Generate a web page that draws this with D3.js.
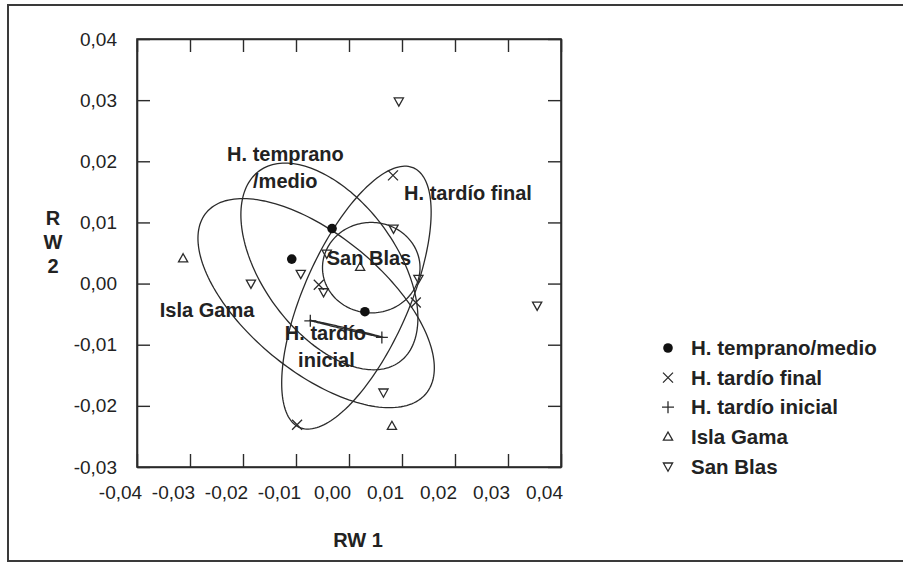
<!DOCTYPE html>
<html>
<head>
<meta charset="utf-8">
<script src="https://cdn.jsdelivr.net/npm/d3@7"></script>
<style>
  body { margin: 0; background: #fff; }
  text { font-family: "Liberation Sans", Arial, sans-serif; fill: #222; }
</style>
</head>
<body>
<div class="container"></div>
<script>
const width = 903;
const height = 565;
const margin = { top: 39, right: 342, bottom: 98, left: 137 };

// datos
const groups = ['H. temprano/medio', 'H. tardío final', 'H. tardío inicial', 'Isla Gama', 'San Blas'];
const groupSymbols = ['dot', 'cross', 'plus', 'up', 'down'];

const tempranoMedio = [[-0.0108, 0.0040], [-0.0032, 0.0090], [0.0030, -0.0046]];
const tardioFinal = [[0.0083, 0.0177], [0.0126, -0.0031], [-0.0098, -0.0231], [-0.0057, -0.0002]];
const tardioInicial = [[-0.0073, -0.0061], [0.0062, -0.0088]];
const islaGama = [[-0.0313, 0.0041], [0.0021, 0.0027], [0.0081, -0.0233]];
const sanBlas = [[0.0094, 0.0298], [0.0084, 0.0090], [-0.0042, 0.0049], [-0.0091, 0.0016],
  [-0.0185, 0.0000], [0.0131, 0.0008], [0.0355, -0.0036], [-0.0048, -0.0014], [0.0065, -0.0178]];
const groupPoints = [tempranoMedio, tardioFinal, tardioInicial, islaGama, sanBlas];

// elipses (centro, semiejes en x/y, correlacion)
const ellipseCx = [-0.0037, 0.0014, -0.0005, -0.0062, 0.0042];
const ellipseCy = [0.0028, -0.0023, -0.0074, -0.0032, 0.0026];
const ellipseSx = [0.0167, 0.0141, 0.0069, 0.0223, 0.0092];
const ellipseSy = [0.0169, 0.0215, 0.0014, 0.0171, 0.0074];
const ellipseR = [-0.50, 0.65, -0.996, -0.62, 0.0];

const xTickValues = [-0.04, -0.03, -0.02, -0.01, 0.00, 0.01, 0.02, 0.03, 0.04];
const yTickValues = [-0.03, -0.02, -0.01, 0.00, 0.01, 0.02, 0.03, 0.04];

// etiquetas dentro del grafico
const plotLabels = ['H. temprano', '/medio', 'H. tardío final', 'San Blas', 'Isla Gama', 'H. tardío', 'inicial'];
const plotLabelX = [-0.0230, -0.0181, 0.0104, -0.0042, -0.0357, -0.0121, -0.0096];
const plotLabelY = [0.0200, 0.0157, 0.0136, 0.0030, -0.0054, -0.0093, -0.0136];

const ink = '#2b2b2b';

const svg = d3.select('.container')
  .append('svg')
  .attr('width', width)
  .attr('height', height);

// marco exterior
svg.append('rect')
  .attr('x', 8)
  .attr('y', 5)
  .attr('width', 905)
  .attr('height', 556)
  .attr('fill', 'none')
  .attr('stroke', '#3a3a3a')
  .attr('stroke-width', 2);

const x = d3.scaleLinear().domain([-0.04, 0.04]).range([margin.left, width - margin.right]);
const y = d3.scaleLinear().domain([-0.03, 0.04]).range([height - margin.bottom, margin.top]);

const loc = d3.formatLocale({ decimal: ',', thousands: '.', grouping: [3], currency: ['', ''], minus: '-' });
const fmt = loc.format('.2f');

const g = svg.append('g');

// ejes
g.append('g')
  .attr('transform', `translate(0,${y.range()[0]})`)
  .call(d3.axisBottom(x).tickValues(xTickValues).tickFormat(fmt).tickSizeInner(-13).tickSizeOuter(0).tickPadding(19))
  .call(a => a.selectAll('text').attr('font-size', 19).attr('fill', '#222').attr('dx', -17));

g.append('g')
  .attr('transform', `translate(0,${y.range()[1]})`)
  .call(d3.axisTop(x).tickValues(xTickValues).tickFormat('').tickSizeInner(-13).tickSizeOuter(0));

g.append('g')
  .attr('transform', `translate(${x.range()[0]},0)`)
  .call(d3.axisLeft(y).tickValues(yTickValues).tickFormat(fmt).tickSizeInner(-13).tickSizeOuter(0).tickPadding(20))
  .call(a => a.selectAll('text').attr('font-size', 19).attr('fill', '#222'));

g.append('g')
  .attr('transform', `translate(${x.range()[1]},0)`)
  .call(d3.axisRight(y).tickValues(yTickValues).tickFormat('').tickSizeInner(-13).tickSizeOuter(0));

g.selectAll('.domain').attr('stroke', ink).attr('stroke-width', 1.6);
g.selectAll('.tick line').attr('stroke', ink).attr('stroke-width', 1.4);

// marco del grafico
g.append('rect')
  .attr('x', x.range()[0])
  .attr('y', y.range()[1])
  .attr('width', x.range()[1] - x.range()[0])
  .attr('height', y.range()[0] - y.range()[1])
  .attr('fill', 'none')
  .attr('stroke', ink)
  .attr('stroke-width', 1.6);

// titulos de ejes
svg.append('text')
  .attr('x', 358)
  .attr('y', 547)
  .attr('text-anchor', 'middle')
  .attr('font-size', 20)
  .attr('font-weight', 'bold')
  .text('RW 1');

['R', 'W', '2'].forEach((ch, i) => {
  svg.append('text')
    .attr('x', 53)
    .attr('y', 225 + i * 24)
    .attr('text-anchor', 'middle')
    .attr('font-size', 20)
    .attr('font-weight', 'bold')
    .text(ch);
});

// elipses
const ellipseLine = d3.line()
  .x(d => x(d[0]))
  .y(d => y(d[1]))
  .curve(d3.curveLinearClosed);

const angles = d3.range(0, 360, 2).map(a => a * Math.PI / 180);

groups.forEach((grp, i) => {
  const r = ellipseR[i];
  const pts = angles.map(t => [
    ellipseCx[i] + ellipseSx[i] * Math.cos(t),
    ellipseCy[i] + ellipseSy[i] * (r * Math.cos(t) + Math.sqrt(1 - r * r) * Math.sin(t))
  ]);
  g.append('path')
    .attr('d', ellipseLine(pts))
    .attr('fill', 'none')
    .attr('stroke', ink)
    .attr('stroke-width', 1.3);
});

// simbolos
function marker(sel, type) {
  if (type === 'dot') {
    sel.append('circle').attr('r', 4.8).attr('fill', '#111');
  } else if (type === 'cross') {
    sel.append('path').attr('d', 'M-5,-5L5,5M-5,5L5,-5')
      .attr('stroke', ink).attr('stroke-width', 1.3).attr('fill', 'none');
  } else if (type === 'plus') {
    sel.append('path').attr('d', 'M-6,0L6,0M0,-6L0,6')
      .attr('stroke', ink).attr('stroke-width', 1.3).attr('fill', 'none');
  } else if (type === 'up') {
    sel.append('path').attr('d', 'M0,-4.8L4.6,3.4L-4.6,3.4Z')
      .attr('stroke', ink).attr('stroke-width', 1.3).attr('fill', 'none');
  } else {
    sel.append('path').attr('d', 'M0,4.8L4.6,-3.4L-4.6,-3.4Z')
      .attr('stroke', ink).attr('stroke-width', 1.3).attr('fill', 'none');
  }
}

groups.forEach((grp, i) => {
  g.selectAll(null)
    .data(groupPoints[i])
    .enter()
    .append('g')
    .attr('transform', d => `translate(${x(d[0])},${y(d[1])})`)
    .each(function () { marker(d3.select(this), groupSymbols[i]); });
});

// etiquetas de grupos
g.selectAll('.lbl')
  .data(plotLabels)
  .enter()
  .append('text')
  .attr('class', 'lbl')
  .attr('x', (d, i) => x(plotLabelX[i]))
  .attr('y', (d, i) => y(plotLabelY[i]))
  .attr('font-size', 20)
  .attr('font-weight', 'bold')
  .text(d => d);

// leyenda
const legenda = svg.append('g')
  .attr('transform', 'translate(668,348)');

groups.forEach((grp, i) => {
  const row = legenda.append('g').attr('transform', `translate(0,${i * 29.6})`);
  marker(row, groupSymbols[i]);
  row.append('text')
    .attr('x', 23)
    .attr('y', 0)
    .attr('dy', '0.35em')
    .attr('font-size', 20.5)
    .attr('font-weight', 'bold')
    .text(grp);
});
</script>
</body>
</html>
